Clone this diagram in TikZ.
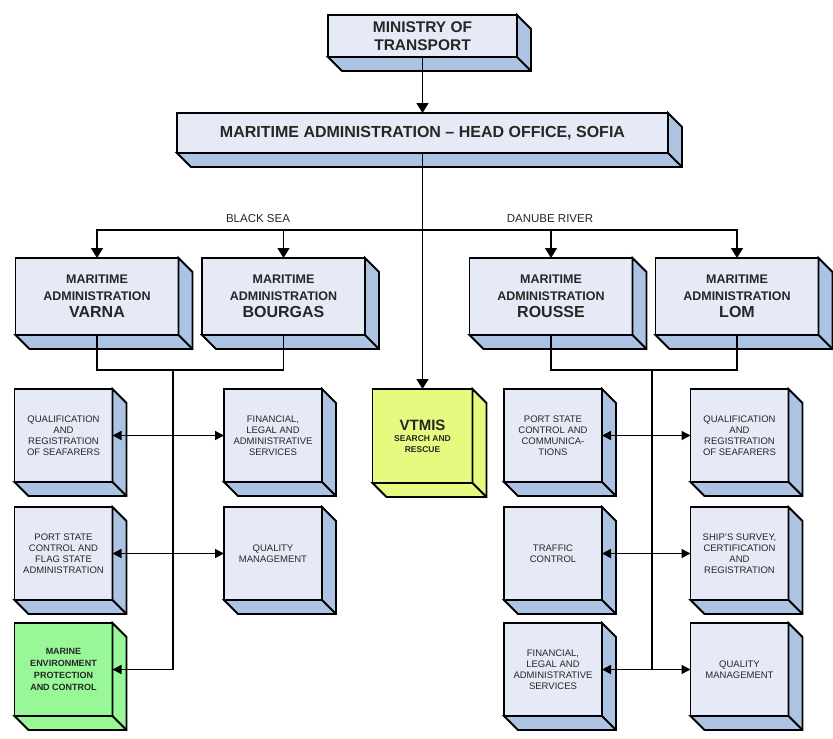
\documentclass[tikz,border=0pt]{standalone}
\usepackage{fontspec}
\setmainfont{Liberation Sans}
\usetikzlibrary{arrows.meta}

\definecolor{boxfront}{RGB}{229,234,246}
\definecolor{boxside}{RGB}{173,195,228}
\definecolor{envgreen}{RGB}{152,248,152}
\definecolor{vtmisyellow}{RGB}{232,249,128}

\tikzset{
  unit/.style={draw, line width=1.8pt, fill=boxfront, align=center, inner sep=1pt, outer sep=0pt, text=black!85},
  office/.style={unit, font=\fontsize{12.5}{17}\selectfont\bfseries, minimum width=163pt, minimum height=77pt},
  service/.style={unit, font=\fontsize{9.5}{11}\selectfont, minimum width=98pt, minimum height=93pt},
  depth/.style={draw, line width=1.8pt, line join=miter},
  link/.style={line width=1.5pt},
  down/.style={link, -{Triangle[length=10pt,width=12pt]}},
  single/.style={link, -{Triangle[length=9pt,width=9pt]}},
  both/.style={link, {Triangle[length=9pt,width=9pt]}-{Triangle[length=9pt,width=9pt]}},
}

% right and bottom faces of a box
\newcommand{\boxdepth}[2]{%
  \filldraw[depth, fill=#2] (#1.north east) -- ++(14,14) -- ([shift={(14,14)}]#1.south east)
    -- ([shift={(14,14)}]#1.south west) -- (#1.south west) -- (#1.south east) -- cycle;
  \draw[depth] (#1.south east) -- ++(14,14);}

\begin{document}
\begin{tikzpicture}[x=1pt, y=-1pt]
  \useasboundingbox (0,0) rectangle (833,739);

  % top of the chart
  \node[unit, font=\fontsize{15.5}{18}\selectfont\bfseries, minimum width=189pt, minimum height=42pt] (ministry) at (422.5,36) {MINISTRY OF\\TRANSPORT};
  \node[unit, font=\fontsize{16}{18}\selectfont\bfseries, minimum width=491pt, minimum height=40pt] (head) at (422.5,133) {MARITIME ADMINISTRATION – HEAD OFFICE, SOFIA};

  % regional administrations
  \node[office] (varna) at (97,296.5) {MARITIME\\ADMINISTRATION\\{\fontsize{16}{17}\selectfont VARNA}};
  \node[office] (bourgas) at (283.5,296.5) {MARITIME\\ADMINISTRATION\\{\fontsize{16}{17}\selectfont BOURGAS}};
  \node[office] (rousse) at (551,296.5) {MARITIME\\ADMINISTRATION\\{\fontsize{16}{17}\selectfont ROUSSE}};
  \node[office] (lom) at (737,296.5) {MARITIME\\ADMINISTRATION\\{\fontsize{16}{17}\selectfont LOM}};

  \node[font=\fontsize{11.5}{12}\selectfont, text=black!85] (blacksea) at (258,219) {BLACK SEA};
  \node[font=\fontsize{11.5}{12}\selectfont, text=black!85] (danube) at (550,219) {DANUBE RIVER};

  % Black Sea services
  \node[service] (lqual) at (63.5,435.5) {QUALIFICATION\\AND\\REGISTRATION\\OF SEAFARERS};
  \node[service] (lfin) at (273,435.5) {FINANCIAL,\\LEGAL AND\\ADMINISTRATIVE\\SERVICES};
  \node[service] (lpsc) at (63.5,553.5) {PORT STATE\\CONTROL AND\\FLAG STATE\\ADMINISTRATION};
  \node[service] (lqm) at (273,553.5) {QUALITY\\MANAGEMENT};
  \node[service, fill=envgreen, font=\fontsize{9}{12}\selectfont\bfseries] (env) at (63.5,669.5) {MARINE\\ENVIRONMENT\\PROTECTION\\AND CONTROL};

  % VTMIS
  \node[service, fill=vtmisyellow, minimum width=100pt, minimum height=94pt, font=\fontsize{8.5}{11}\selectfont\bfseries] (vtmis) at (422.5,436) {{\fontsize{15}{15}\selectfont VTMIS}\\SEARCH AND\\RESCUE};

  % Danube River services
  \node[service] (rpsc) at (553,435.5) {PORT STATE\\CONTROL AND\\COMMUNICA-\\TIONS};
  \node[service] (rqual) at (739.5,435.5) {QUALIFICATION\\AND\\REGISTRATION\\OF SEAFARERS};
  \node[service] (rtraf) at (553,553.5) {TRAFFIC\\CONTROL};
  \node[service] (rship) at (739.5,553.5) {SHIP'S SURVEY,\\CERTIFICATION\\AND\\REGISTRATION};
  \node[service] (rfin) at (553,669.5) {FINANCIAL,\\LEGAL AND\\ADMINISTRATIVE\\SERVICES};
  \node[service] (rqm) at (739.5,669.5) {QUALITY\\MANAGEMENT};

  % faces
  \foreach \b in {ministry,head,varna,bourgas,rousse,lom,lqual,lfin,lpsc,lqm,rpsc,rqual,rtraf,rship,rfin,rqm}
    {\boxdepth{\b}{boxside}}
  \boxdepth{env}{envgreen}
  \boxdepth{vtmis}{vtmisyellow}

  % connectors
  \coordinate (split) at (422.5,230);
  \coordinate (ltrunk) at (173,370);
  \coordinate (rtrunk) at (652,370);

  \draw[down] (ministry) -- (head);
  \draw[down] (head) -- (vtmis);
  \draw[down] (split) -| (varna);
  \draw[down] (split) -| (bourgas);
  \draw[down] (split) -| (rousse);
  \draw[down] (split) -| (lom);

  \draw[link] (varna.south) |- (ltrunk) -| (bourgas.south);
  \draw[single] (ltrunk) |- (env.east);
  \draw[both] (lqual.east) -- (lfin.west);
  \draw[both] (lpsc.east) -- (lqm.west);

  \draw[link] (rousse.south) |- (rtrunk) -| (lom.south);
  \draw[link] (rtrunk) -- (rtrunk |- rfin.east);
  \draw[both] (rpsc.east) -- (rqual.west);
  \draw[both] (rtraf.east) -- (rship.west);
  \draw[both] (rfin.east) -- (rqm.west);

\end{tikzpicture}
\end{document}
